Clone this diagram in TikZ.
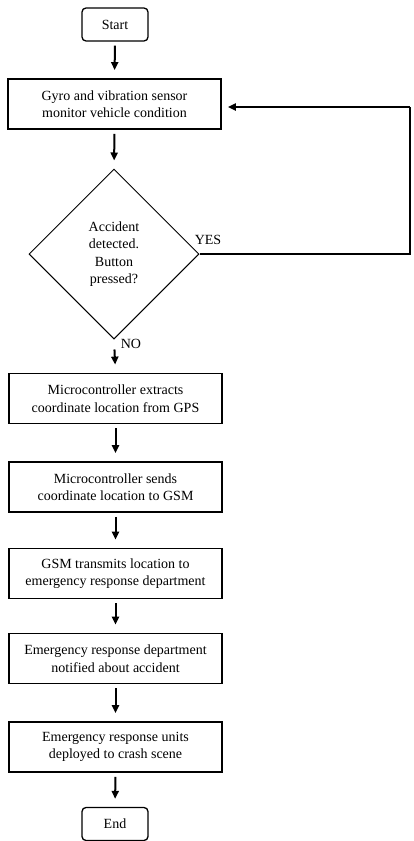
\documentclass[tikz,border=0pt]{standalone}
\usepackage{fontspec}
\setmainfont{Liberation Serif}
\usetikzlibrary{shapes.geometric,arrows.meta}
\begin{document}
\begin{tikzpicture}[x=1pt,y=-1pt,
  every node/.style={font=\fontsize{14}{17.5}\selectfont, align=center, inner sep=0pt},
  procbox/.style={draw, line width=1.8pt, minimum width=213pt, minimum height=50pt},
  termbox/.style={draw, line width=1.3pt, rounded corners=4pt, minimum width=66pt, minimum height=33pt},
  decbox/.style={draw, line width=1pt, diamond, aspect=1, minimum width=170pt, minimum height=170pt},
  flow/.style={line width=2pt, -{Triangle[width=7pt,length=8pt]}, shorten >=8pt, shorten <=4pt},
  loopline/.style={line width=1.8pt}
]
\useasboundingbox (0,0) rectangle (413,841);
\node[termbox] (start) at (115,24.5) {Start};
\node[procbox] (gyro) at (114.5,104) {Gyro and vibration sensor\\monitor vehicle condition};
\node[decbox] (dec) at (114,254) {Accident\\detected.\\Button\\pressed?};
\node[procbox] (ext) at (115.5,398.5) {Microcontroller extracts\\coordinate location from GPS};
\node[procbox] (send) at (115.5,487) {Microcontroller sends\\coordinate location to GSM};
\node[procbox] (gsm) at (115.5,573.5) {GSM transmits location to\\emergency response department};
\node[procbox] (notif) at (115.5,658.5) {Emergency response department\\notified about accident};
\node[procbox] (units) at (115.5,747) {Emergency response units\\deployed to crash scene};
\node[termbox] (end) at (115,824) {End};
\node (yes) at (208,240) {YES};
\node (no) at (131,344) {NO};
\coordinate (r2) at (410,107);

\draw[flow] (start.south) -- (gyro.north);
\draw[flow] (gyro.south) -- (dec.north);
\draw[flow, shorten <=10pt] (dec.south) -- (ext.north);
\draw[flow] (ext.south) -- (send.north);
\draw[flow] (send.south) -- (gsm.north);
\draw[flow] (gsm.south) -- (notif.north);
\draw[flow] (notif.south) -- (units.north);
\draw[flow] (units.south) -- (end.north);
\draw[loopline] (dec.east) -| (r2);
\draw[flow, shorten <=0pt, shorten >=6pt] (r2) -- (gyro.east |- r2);
\end{tikzpicture}
\end{document}
